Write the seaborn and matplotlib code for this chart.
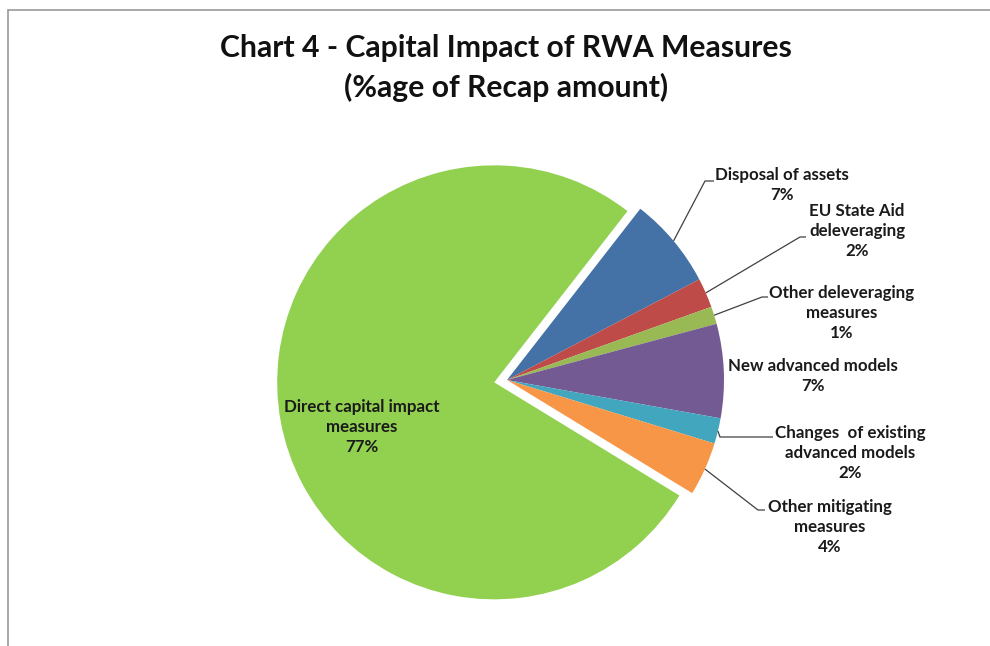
import numpy as np
import matplotlib
matplotlib.use("Agg")
import matplotlib.pyplot as plt
from matplotlib.lines import Line2D
import seaborn as sns

# Share of the recapitalisation amount covered by each RWA measure (%)
categories = [
    "Disposal of assets",
    "EU State Aid\ndeleveraging",
    "Other deleveraging\nmeasures",
    "New advanced models",
    "Changes  of existing\nadvanced models",
    "Other mitigating\nmeasures",
    "Direct capital impact\nmeasures",
]
shares = [6.8, 2.2, 1.3, 7.0, 1.9, 4.0, 76.8]
colors = ["#4471A6", "#BE4B48", "#98B954", "#745A93", "#43A6BF", "#F79646", "#92D050"]
title = "Chart 4 - Capital Impact of RWA Measures\n(%age of Recap amount)"

sns.set_theme(style="white")
plt.rcParams["font.family"] = ["Lato", "DejaVu Sans"]

W, H = 990, 646
fig = plt.figure(figsize=(W / 100, H / 100), dpi=100)
ax = fig.add_axes([0, 0, 1, 1])

center = (507, H - 380)
radius = 217
# pie() offsets exploded wedges in data units, so scale by the radius
explode = [0, 0, 0, 0, 0, 0, 0.06 * radius]

wedges, _ = ax.pie(
    shares,
    colors=sns.color_palette(colors),
    explode=explode,
    startangle=52.1,
    counterclock=False,
    center=center,
    radius=radius,
    wedgeprops=dict(linewidth=0),
    frame=True,
)
ax.set_xlim(0, W)
ax.set_ylim(0, H)
ax.axis("off")

labels = [f"{c}\n{v:.0f}%" for c, v in zip(categories, shares)]

# label anchor (text centre), leader elbow and leader end, in pixel layout
label_pos = [
    ((782, 185), (705, 181), (714, 181)),
    ((857, 231), (800, 237), (806, 237)),
    ((842, 313), (762, 297), (768, 297)),
    ((813, 376), None, None),
    ((850, 453), (720, 437), (773, 437)),
    ((830, 527), (758, 510), (765, 510)),
    ((362, 427), None, None),
]

text_kw = dict(ha="center", va="center", fontsize=12.2, fontweight="bold",
               color="#1a1a1a", linespacing=1.32)

for w, lab, (tpos, elbow, end) in zip(wedges, labels, label_pos):
    ax.text(tpos[0], H - tpos[1], lab, **text_kw)
    if elbow is not None:
        mid = np.deg2rad((w.theta1 + w.theta2) / 2)
        cx, cy = w.center
        sx = cx + w.r * np.cos(mid)
        sy = cy + w.r * np.sin(mid)
        ax.plot([sx, elbow[0], end[0]], [sy, H - elbow[1], H - end[1]],
                color="#404040", linewidth=0.9, solid_capstyle="butt")

fig.text(506 / W, 1 - 68 / H, title, ha="center", va="center",
         fontsize=21.7, fontweight="bold", color="#111111", linespacing=1.45)

# chart area border (top and left edges)
fig.add_artist(Line2D([8 / W, 8 / W], [0, 1 - 10 / H], transform=fig.transFigure,
                      color="#9a9a9a", linewidth=1.2))
fig.add_artist(Line2D([8 / W, 1], [1 - 10 / H, 1 - 10 / H], transform=fig.transFigure,
                      color="#9a9a9a", linewidth=1.2))

fig.savefig("out.png", dpi=100, facecolor="white")
